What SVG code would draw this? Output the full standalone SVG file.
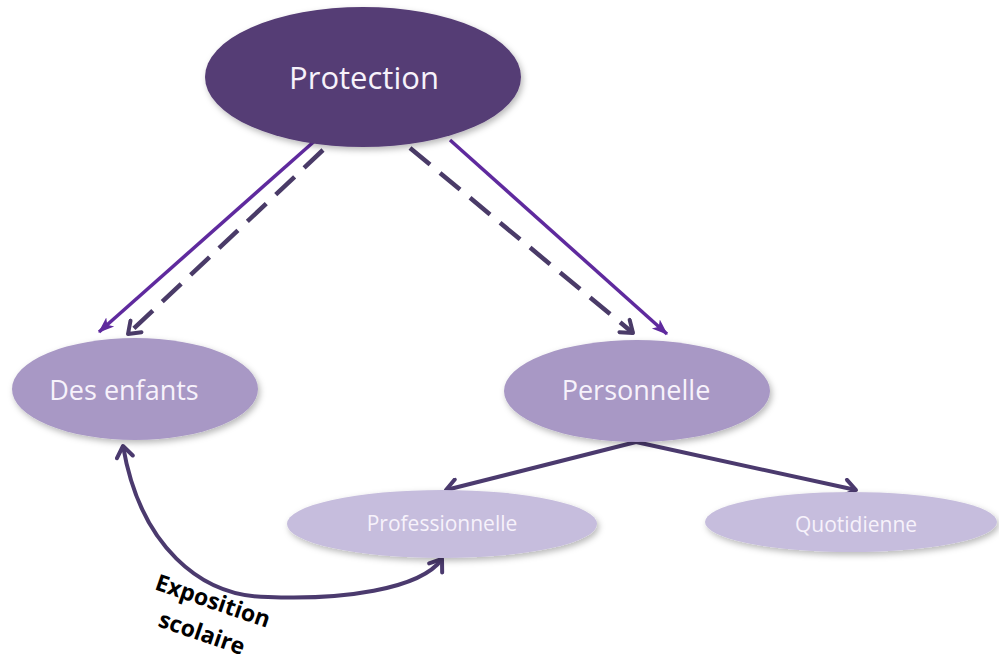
<svg xmlns="http://www.w3.org/2000/svg" width="999" height="665" viewBox="0 0 999 665">
  <style>
    .lbl { font-family: "Open Sans", "Noto Sans", "Liberation Sans", sans-serif; fill: #f7f2fb; text-anchor: middle; }
    .solid { fill: none; stroke: #5f2a9e; stroke-width: 3.5; }
    .dash { fill: none; stroke: #4a3b68; stroke-width: 4.5; stroke-dasharray: 26 13; }
    .dark { fill: none; stroke: #4b3a6e; stroke-width: 4; }
    .note { font-family: "Open Sans", "Liberation Sans", sans-serif; font-weight: bold; font-size: 23px; fill: #000; text-anchor: middle; }
  </style>
  <defs>
    <filter id="sh" x="-20%" y="-20%" width="140%" height="150%">
      <feDropShadow dx="2" dy="3" stdDeviation="3" flood-color="#000" flood-opacity="0.28"/>
    </filter>
    <marker id="tri" markerUnits="userSpaceOnUse" markerWidth="18" markerHeight="14" refX="15" refY="6" orient="auto" viewBox="0 0 18 12">
      <path d="M0,0 L16,6 L0,12 L4,6 Z" fill="#5f2a9e"/>
    </marker>
    <marker id="chev" markerUnits="userSpaceOnUse" markerWidth="20" markerHeight="20" refX="14" refY="10" orient="auto" viewBox="0 0 20 20">
      <path d="M3,2 L14,10 L3,18" fill="none" stroke="#4a3b68" stroke-width="4" stroke-linecap="round" stroke-linejoin="round"/>
    </marker>
    <marker id="chevS" markerUnits="userSpaceOnUse" markerWidth="20" markerHeight="20" refX="14" refY="10" orient="auto-start-reverse" viewBox="0 0 20 20">
      <path d="M3,2 L14,10 L3,18" fill="none" stroke="#4b3a6e" stroke-width="4" stroke-linecap="round" stroke-linejoin="round"/>
    </marker>
  </defs>

  <rect width="999" height="665" fill="#ffffff"/>

  <g id="connectors">
    <line class="solid" x1="318" y1="138" x2="99" y2="332" marker-end="url(#tri)"/>
    <line class="dash" x1="323" y1="150" x2="128" y2="334" marker-end="url(#chev)"/>
    <line class="dash" x1="410" y1="148" x2="633" y2="333" marker-end="url(#chev)"/>
    <line class="solid" x1="450" y1="140" x2="667" y2="334" marker-end="url(#tri)"/>
    <line class="dark" x1="636" y1="442" x2="446" y2="490" marker-end="url(#chevS)"/>
    <line class="dark" x1="636" y1="442" x2="856" y2="490" marker-end="url(#chevS)"/>
    <path class="dark" d="M442,559 C420,590 340,600 268,597 C200,597 140,545 123,446" marker-start="url(#chevS)" marker-end="url(#chevS)"/>
  </g>

  <g id="node-protection">
    <ellipse cx="363" cy="77" rx="158" ry="70" fill="#553c75" filter="url(#sh)"/>
    <text class="lbl" x="364" y="89" font-size="31">Protection</text>
  </g>

  <g id="node-des-enfants">
    <ellipse cx="135" cy="389" rx="123" ry="51" fill="#a898c5" filter="url(#sh)"/>
    <text class="lbl" x="124" y="400" font-size="27">Des enfants</text>
  </g>

  <g id="node-personnelle">
    <ellipse cx="637" cy="391" rx="133" ry="51" fill="#a898c5" filter="url(#sh)"/>
    <text class="lbl" x="636" y="400" font-size="27">Personnelle</text>
  </g>

  <g id="node-professionnelle">
    <ellipse cx="442" cy="524" rx="155" ry="34" fill="#c6bddd" filter="url(#sh)"/>
    <text class="lbl" x="442" y="531" font-size="21">Professionnelle</text>
  </g>

  <g id="node-quotidienne">
    <ellipse cx="851" cy="522" rx="146" ry="30" fill="#c6bddd" filter="url(#sh)"/>
    <text class="lbl" x="856" y="532" font-size="21">Quotidienne</text>
  </g>

  <g id="label-exposition" transform="translate(148,587) rotate(19)">
    <text class="note" x="66" y="0">Exposition</text>
    <text class="note" x="66" y="34">scolaire</text>
  </g>
</svg>
